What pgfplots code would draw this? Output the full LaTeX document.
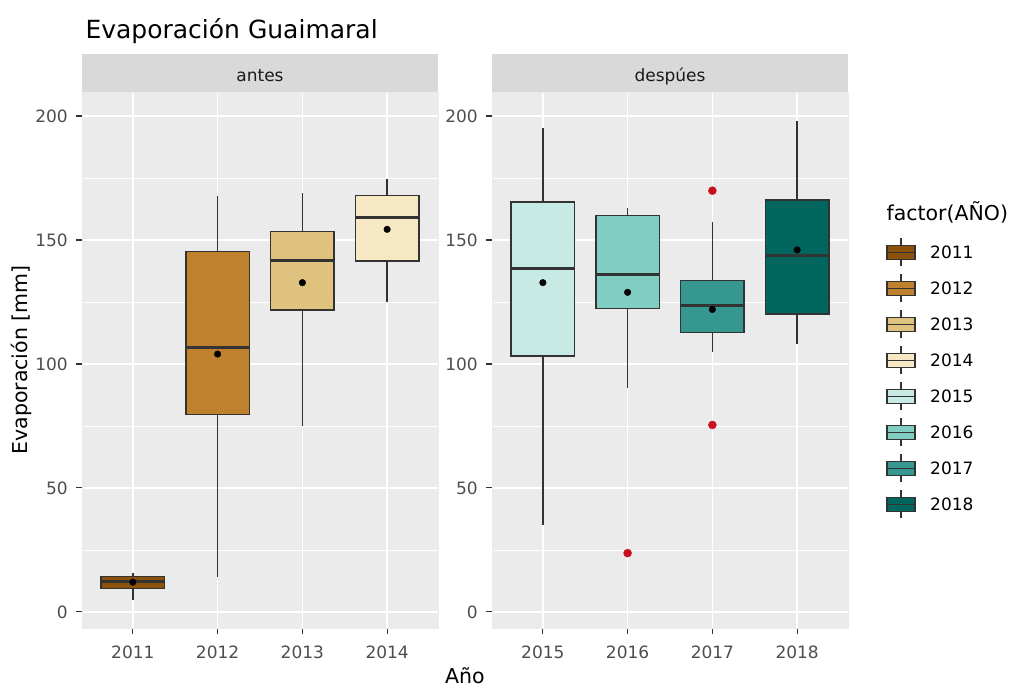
\documentclass[border=0pt]{standalone}
\usepackage{fontspec}
\setmainfont{DejaVu Sans}
\usepackage{pgfplots}
\pgfplotsset{compat=1.18}
\definecolor{c2011}{HTML}{8C510A}
\definecolor{c2012}{HTML}{BF812D}
\definecolor{c2013}{HTML}{DFC27D}
\definecolor{c2014}{HTML}{F6E8C3}
\definecolor{c2015}{HTML}{C7EAE5}
\definecolor{c2016}{HTML}{80CDC1}
\definecolor{c2017}{HTML}{35978F}
\definecolor{c2018}{HTML}{01665E}
\definecolor{panelbg}{HTML}{EBEBEB}
\definecolor{stripbg}{HTML}{D9D9D9}
\definecolor{grey20}{HTML}{333333}
\definecolor{grey30}{HTML}{4D4D4D}
\definecolor{grey10}{HTML}{1A1A1A}
\definecolor{outred}{RGB}{200,16,30}
\pgfplotsset{
  panel/.style={
    scale only axis, width=356pt, height=536pt,
    xmin=0.4, xmax=4.6, ymin=-6.5, ymax=209.7,
    xtick={1,2,3,4}, ytick={0,50,100,150,200}, minor ytick={25,75,125,175},
    xmajorgrids, ymajorgrids, yminorgrids,
    major grid style={white, line width=1.6pt},
    minor grid style={white, line width=0.8pt},
    axis background/.style={fill=panelbg},
    axis line style={draw=panelbg, line width=0.1pt},
    xtick pos=bottom, ytick pos=left,
    tick align=outside, major tick length=6pt, minor tick length=0pt,
    tick style={draw=grey20, line width=1.1pt},
    tick label style={font=\fontsize{17}{17}\selectfont, text=grey30},
    xticklabel style={inner sep=0pt, yshift=-12pt},
    yticklabel style={inner sep=0pt, xshift=-8pt},
    /pgf/number format/assume math mode=true,
  },
  wh/.style={grey20, line width=1.4pt, forget plot},
  meanpt/.style={only marks, mark=*, mark size=3.3pt, black, forget plot},
  outpt/.style={only marks, mark=*, mark size=4pt, outred, forget plot},
}
% #1 position, #2 left edge, #3 right edge, #4 lower whisker, #5 lower quartile,
% #6 median, #7 upper quartile, #8 upper whisker, #9 colour
\newcommand{\bx}[9]{%
  \addplot[wh] coordinates {(#1,#4) (#1,#5)};
  \addplot[wh] coordinates {(#1,#7) (#1,#8)};
  \addplot[wh, fill=#9, line join=miter] coordinates {(#2,#5) (#3,#5) (#3,#7) (#2,#7)} -- cycle;
  \addplot[grey20, line width=3pt, forget plot] coordinates {(#2,#6) (#3,#6)};
}
\newcommand{\boxkey}[3]{% x, y center (pt), colour
  \draw[grey20, line width=1.4pt] (#1pt+14pt,#2pt-14pt) -- (#1pt+14pt,#2pt+14pt);
  \draw[grey20, line width=1.4pt, fill=#3] (#1pt,#2pt-7pt) rectangle (#1pt+28pt,#2pt+7pt);
  \draw[grey20, line width=1.4pt] (#1pt,#2pt) -- (#1pt+28pt,#2pt);}
\begin{document}
\begin{tikzpicture}
\path[use as bounding box] (0pt,0pt) rectangle (1009pt,688pt);
\begin{axis}[panel, at={(82pt,60pt)}, anchor=south west, xticklabels={2011,2012,2013,2014}]
\bx{1}{0.625}{1.375}{4.6}{9.4}{12.3}{14.2}{15.6}{c2011}
\bx{2}{1.625}{2.375}{14.0}{79.7}{106.6}{145.3}{167.7}{c2012}
\bx{3}{2.625}{3.375}{75.0}{121.8}{141.7}{153.4}{168.8}{c2013}
\bx{4}{3.625}{4.375}{125.1}{141.5}{159.0}{168.0}{174.6}{c2014}
\addplot[meanpt] coordinates {(1,12.0) (2,104.0) (3,132.8) (4,154.3)};
\end{axis}
\begin{axis}[panel, at={(492pt,60pt)}, anchor=south west, xticklabels={2015,2016,2017,2018}]
\bx{1}{0.625}{1.375}{35.1}{103.2}{138.4}{165.4}{195.0}{c2015}
\bx{2}{1.625}{2.375}{90.2}{122.4}{135.9}{159.8}{163.0}{c2016}
\bx{3}{2.625}{3.375}{105.0}{112.6}{123.4}{133.7}{157.4}{c2017}
\bx{4}{3.625}{4.375}{108.1}{120.2}{143.9}{166.1}{198.1}{c2018}
\addplot[outpt] coordinates {(2,23.7) (3,169.9) (3,75.4)};
\addplot[meanpt] coordinates {(1,132.8) (2,128.9) (3,122.0) (4,146.0)};
\end{axis}
\fill[stripbg] (82pt,596pt) rectangle (438pt,634pt);
\node[anchor=base, font=\fontsize{17}{17}\selectfont, text=grey10] at (260pt,606pt) {antes};
\fill[stripbg] (492pt,596pt) rectangle (848pt,634pt);
\node[anchor=base, font=\fontsize{17}{17}\selectfont, text=grey10] at (670pt,606pt) {despúes};
\node[anchor=base west, font=\fontsize{25}{25}\selectfont] at (82pt,649pt) {Evaporación Guaimaral};
\node[rotate=90, anchor=base, font=\fontsize{20.5}{20.5}\selectfont] at (27pt,328pt) {Evaporación [mm]};
\node[anchor=base, font=\fontsize{20.5}{20.5}\selectfont] at (465pt,5pt) {Año};
\node[anchor=base west, font=\fontsize{20.5}{20.5}\selectfont] at (883pt,467.5pt) {factor(AÑO)};
\boxkey{887}{435.7}{c2011}\node[anchor=west, font=\fontsize{17}{17}\selectfont, inner sep=0pt] at (930pt,435.7pt) {2011};
\boxkey{887}{399.7}{c2012}\node[anchor=west, font=\fontsize{17}{17}\selectfont, inner sep=0pt] at (930pt,399.7pt) {2012};
\boxkey{887}{363.7}{c2013}\node[anchor=west, font=\fontsize{17}{17}\selectfont, inner sep=0pt] at (930pt,363.7pt) {2013};
\boxkey{887}{327.7}{c2014}\node[anchor=west, font=\fontsize{17}{17}\selectfont, inner sep=0pt] at (930pt,327.7pt) {2014};
\boxkey{887}{291.7}{c2015}\node[anchor=west, font=\fontsize{17}{17}\selectfont, inner sep=0pt] at (930pt,291.7pt) {2015};
\boxkey{887}{255.7}{c2016}\node[anchor=west, font=\fontsize{17}{17}\selectfont, inner sep=0pt] at (930pt,255.7pt) {2016};
\boxkey{887}{219.7}{c2017}\node[anchor=west, font=\fontsize{17}{17}\selectfont, inner sep=0pt] at (930pt,219.7pt) {2017};
\boxkey{887}{183.7}{c2018}\node[anchor=west, font=\fontsize{17}{17}\selectfont, inner sep=0pt] at (930pt,183.7pt) {2018};
\end{tikzpicture}
\end{document}
